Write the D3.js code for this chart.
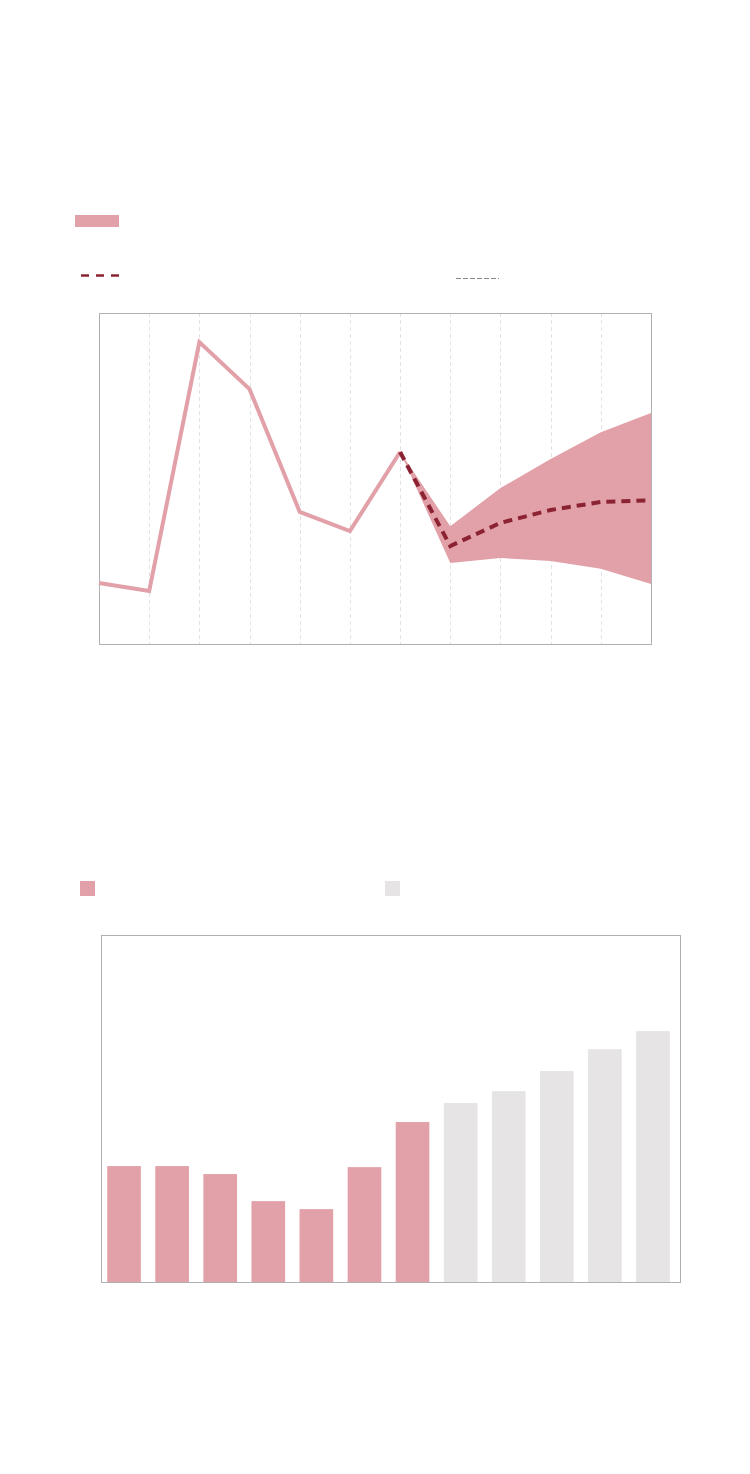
<!DOCTYPE html>
<html>
<head>
<meta charset="utf-8">
<script src="https://cdn.jsdelivr.net/npm/d3@7"></script>
<style>
  html, body { margin: 0; padding: 0; background: #ffffff; }
  svg { display: block; }
</style>
</head>
<body>
<svg id="chart" width="750" height="1474"></svg>
<script>
// ---- data ----
const periods = [0, 1, 2, 3, 4, 5, 6, 7, 8, 9, 10, 11];
const actualValues = [-0.16, -0.40, 7.12, 5.70, 1.99, 1.41, 3.80];
const forecastPeriods = [6, 7, 8, 9, 10, 11];
const forecastMedian = [3.80, 0.96, 1.66, 2.05, 2.29, 2.34];
const forecastUpper = [3.80, 1.56, 2.71, 3.59, 4.40, 4.98];
const forecastLower = [3.80, 0.45, 0.60, 0.51, 0.27, -0.19];
const lineDomain = [-2, 8];

const barCategories = [0, 1, 2, 3, 4, 5, 6, 7, 8, 9, 10, 11];
const barValues = [33.4, 33.4, 31.1, 23.3, 21.0, 33.1, 46.1, 51.6, 55.0, 60.8, 67.1, 72.3];
const barIsForecast = [false, false, false, false, false, false, false, true, true, true, true, true];
const barDomain = [0, 100];

// ---- styles ----
const PINK = "#e2a0a8";
const DARK = "#8b2332";
const GREY_BAR = "#e6e4e5";
const FRAME = "#b0b0b0";
const GRID = "#e3e3e3";

const svg = d3.select("#chart");

// ===== Line chart =====
const L = { left: 99, right: 651, top: 313, bottom: 644 };
const x = d3.scaleLinear().domain([0, 11]).range([L.left, L.right]);
const y = d3.scaleLinear().domain(lineDomain).range([L.bottom, L.top]);

// grid lines
svg.append("g")
  .selectAll("line")
  .data(periods.slice(1, -1))
  .join("line")
  .attr("x1", d => Math.round(x(d)) + 0.5)
  .attr("x2", d => Math.round(x(d)) + 0.5)
  .attr("y1", L.top)
  .attr("y2", L.bottom)
  .attr("stroke", GRID)
  .attr("stroke-width", 1)
  .attr("stroke-dasharray", "4,3");

// frame
svg.append("rect")
  .attr("x", L.left + 0.5).attr("y", L.top + 0.5)
  .attr("width", L.right - L.left).attr("height", L.bottom - L.top)
  .attr("fill", "none").attr("stroke", FRAME).attr("stroke-width", 1);

// forecast band
const band = forecastPeriods.map((p, i) => ({ p, lo: forecastLower[i], hi: forecastUpper[i] }));
svg.append("path")
  .datum(band)
  .attr("fill", PINK)
  .attr("d", d3.area().x(d => x(d.p)).y0(d => y(d.lo)).y1(d => y(d.hi)));

// actual line
svg.append("path")
  .datum(actualValues.map((v, i) => ({ p: periods[i], v })))
  .attr("fill", "none")
  .attr("stroke", PINK)
  .attr("stroke-width", 4)
  .attr("stroke-linejoin", "miter")
  .attr("d", d3.line().x(d => x(d.p)).y(d => y(d.v)));

// median forecast
svg.append("path")
  .datum(forecastPeriods.map((p, i) => ({ p, v: forecastMedian[i] })))
  .attr("fill", "none")
  .attr("stroke", DARK)
  .attr("stroke-width", 4)
  .attr("stroke-dasharray", "9,6")
  .attr("d", d3.line().x(d => x(d.p)).y(d => y(d.v)));

// legends (line chart)
svg.append("rect").attr("x", 75).attr("y", 215).attr("width", 44).attr("height", 12).attr("fill", PINK);
svg.append("line").attr("x1", 81).attr("x2", 122).attr("y1", 275.5).attr("y2", 275.5)
  .attr("stroke", DARK).attr("stroke-width", 2.5).attr("stroke-dasharray", "8,7");
svg.append("line").attr("x1", 456).attr("x2", 499).attr("y1", 278.5).attr("y2", 278.5)
  .attr("stroke", "#888").attr("stroke-width", 1).attr("stroke-dasharray", "5,2");

// ===== Bar chart =====
const B = { left: 101, right: 680, top: 935, bottom: 1282 };
const xb = d3.scaleBand().domain(barCategories).range([100, 677]).paddingInner(0.3).paddingOuter(0.15);
const yb = d3.scaleLinear().domain(barDomain).range([B.bottom, B.bottom - 347]);

svg.append("rect")
  .attr("x", B.left + 0.5).attr("y", B.top + 0.5)
  .attr("width", B.right - B.left).attr("height", B.bottom - B.top)
  .attr("fill", "none").attr("stroke", FRAME).attr("stroke-width", 1);

svg.append("g")
  .selectAll("rect")
  .data(barCategories)
  .join("rect")
  .attr("x", d => xb(d))
  .attr("width", xb.bandwidth())
  .attr("y", (d, i) => yb(barValues[i]))
  .attr("height", (d, i) => yb(0) - yb(barValues[i]))
  .attr("fill", (d, i) => barIsForecast[i] ? GREY_BAR : PINK);

// legends (bar chart)
svg.append("rect").attr("x", 80).attr("y", 881).attr("width", 15).attr("height", 15).attr("fill", PINK);
svg.append("rect").attr("x", 385).attr("y", 881).attr("width", 15).attr("height", 15).attr("fill", GREY_BAR);
</script>
</body>
</html>
